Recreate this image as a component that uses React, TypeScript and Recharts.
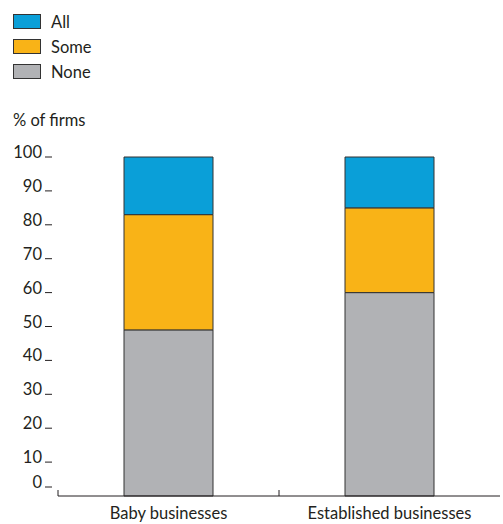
import React from "react";
import { BarChart, Bar, XAxis, YAxis } from "recharts";

const categories = ["Baby businesses", "Established businesses"];
const noneValues = [49, 60];
const someValues = [34, 25];
const allValues = [17, 15];
const yTicks = [0, 10, 20, 30, 40, 50, 60, 70, 80, 90, 100];
const yTitle = "% of firms";

const COLORS = { all: "#0a9fd8", some: "#f9b317", none: "#b1b2b5" };
const FONT = "Lato, 'Open Sans', sans-serif";
const FS = 16.5;

const data = categories.map((c, i) => ({
  name: c,
  none: noneValues[i],
  some: someValues[i],
  all: allValues[i],
}));

const legendItems = [
  { key: "all", label: "All" },
  { key: "some", label: "Some" },
  { key: "none", label: "None" },
];

const LegendBlock = () => (
  <div style={{ position: "absolute", left: 13, top: 9, fontFamily: FONT, color: "#231f20" }}>
    {legendItems.map((it) => (
      <div key={it.key} style={{ display: "flex", alignItems: "center", height: 25 }}>
        <div
          style={{
            width: 26,
            height: 13,
            background: (COLORS as any)[it.key],
            border: "1px solid #333",
            marginRight: 10,
          }}
        />
        <span style={{ fontSize: FS }}>{it.label}</span>
      </div>
    ))}
    <div style={{ fontSize: FS, marginTop: 26 }}>{yTitle}</div>
  </div>
);

const YTick = (props: any) => {
  const { x, y, payload } = props;
  const off = payload.value === 0 ? -9 : 0;
  return (
    <g>
      <text
        x={x - 16}
        y={y + 1 + off}
        textAnchor="end"
        fontFamily={FONT}
        fontSize={FS}
        fill="#231f20"
      >
        {payload.value}
      </text>
      <line x1={x - 13} x2={x - 6} y1={y + off} y2={y + off} stroke="#231f20" strokeWidth={1} />
    </g>
  );
};

const XTick = (props: any) => {
  const { x, y, payload } = props;
  return (
    <g>
      <line x1={x - 110.5} x2={x - 110.5} y1={y - 6} y2={y} stroke="#231f20" strokeWidth={1} />
      <text x={x} y={y + 23} textAnchor="middle" fontFamily={FONT} fontSize={FS} fill="#231f20">
        {payload.value}
      </text>
    </g>
  );
};

export default function App() {
  return (
    <div style={{ position: "absolute", left: 0, top: 0, width: 503, height: 524, background: "#fff" }}>
      <BarChart
        width={503}
        height={524}
        data={data}
        margin={{ top: 157, right: 3, bottom: 0, left: 8 }}
        barCategoryGap={0}
      >
        <XAxis
          dataKey="name"
          tickLine={false}
          tickSize={0}
          tickMargin={0}
          axisLine={{ stroke: "#231f20", strokeWidth: 1 }}
          tick={<XTick />}
          height={28}
          interval={0}
        />
        <YAxis
          domain={[0, 100]}
          ticks={yTicks}
          width={50}
          axisLine={false}
          tickLine={false}
          tickSize={0}
          tickMargin={0}
          tick={<YTick />}
          interval={0}
        />
        <Bar dataKey="none" stackId="a" fill={COLORS.none} stroke="#333" strokeWidth={1} barSize={89} isAnimationActive={false} />
        <Bar dataKey="some" stackId="a" fill={COLORS.some} stroke="#333" strokeWidth={1} barSize={89} isAnimationActive={false} />
        <Bar dataKey="all" stackId="a" fill={COLORS.all} stroke="#333" strokeWidth={1} barSize={89} isAnimationActive={false} />
      </BarChart>
      <LegendBlock />
    </div>
  );
}
